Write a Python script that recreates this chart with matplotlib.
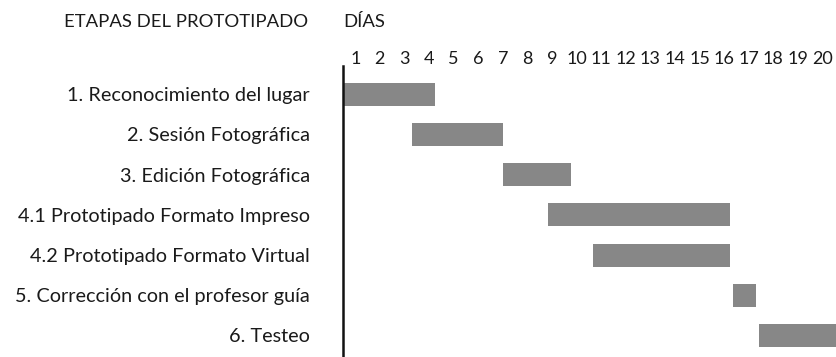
import matplotlib.pyplot as plt

# Stages of the prototyping schedule
etapas = [
    "1. Reconocimiento del lugar",
    "2. Sesión Fotográfica",
    "3. Edición Fotográfica",
    "4.1 Prototipado Formato Impreso",
    "4.2 Prototipado Formato Virtual",
    "5. Corrección con el profesor guía",
    "6. Testeo",
]
# start and end of each stage, in days (day n is centred on n)
inicio = [0.5, 3.32, 7.01, 8.84, 10.67, 16.37, 17.42]
fin = [4.25, 7.01, 9.78, 16.24, 16.24, 17.30, 21.0]
dias = list(range(1, 21))

plt.rcParams['font.family'] = ['Lato', 'DejaVu Sans']
FS = 14.3
TXT = '#1a1a1a'

W, H = 837, 357
fig = plt.figure(figsize=(W / 100, H / 100), dpi=100)
ax = fig.add_axes([343 / W, 0, 1 - 343 / W, (H - 66) / H])

duracion = [f - i for i, f in zip(inicio, fin)]
ax.barh(range(len(etapas)), duracion, left=inicio, height=0.57,
        color='#878787', linewidth=0)

ax.set_xlim(0.5, 20.59)
ax.set_ylim(6.535, -0.70)

# day numbers along the top
ax.xaxis.tick_top()
ax.set_xticks(dias)
ax.set_xticklabels([str(d) for d in dias], fontsize=13, color=TXT)
ax.tick_params(axis='x', length=0, pad=-1)

ax.set_yticks(range(len(etapas)))
ax.set_yticklabels(etapas, fontsize=FS, color=TXT)
ax.tick_params(axis='y', length=0, pad=24)

for side in ['top', 'right', 'bottom']:
    ax.spines[side].set_visible(False)
ax.spines['left'].set_linewidth(1.8)
ax.spines['left'].set_color('#111111')

fig.text(308 / W, 1 - 22 / H, "ETAPAS DEL PROTOTIPADO", ha='right', va='center',
         fontsize=13.3, color=TXT)
fig.text(343 / W, 1 - 22 / H, "DÍAS", ha='left', va='center',
         fontsize=13.3, color=TXT)

fig.savefig("out.png", dpi=100)
